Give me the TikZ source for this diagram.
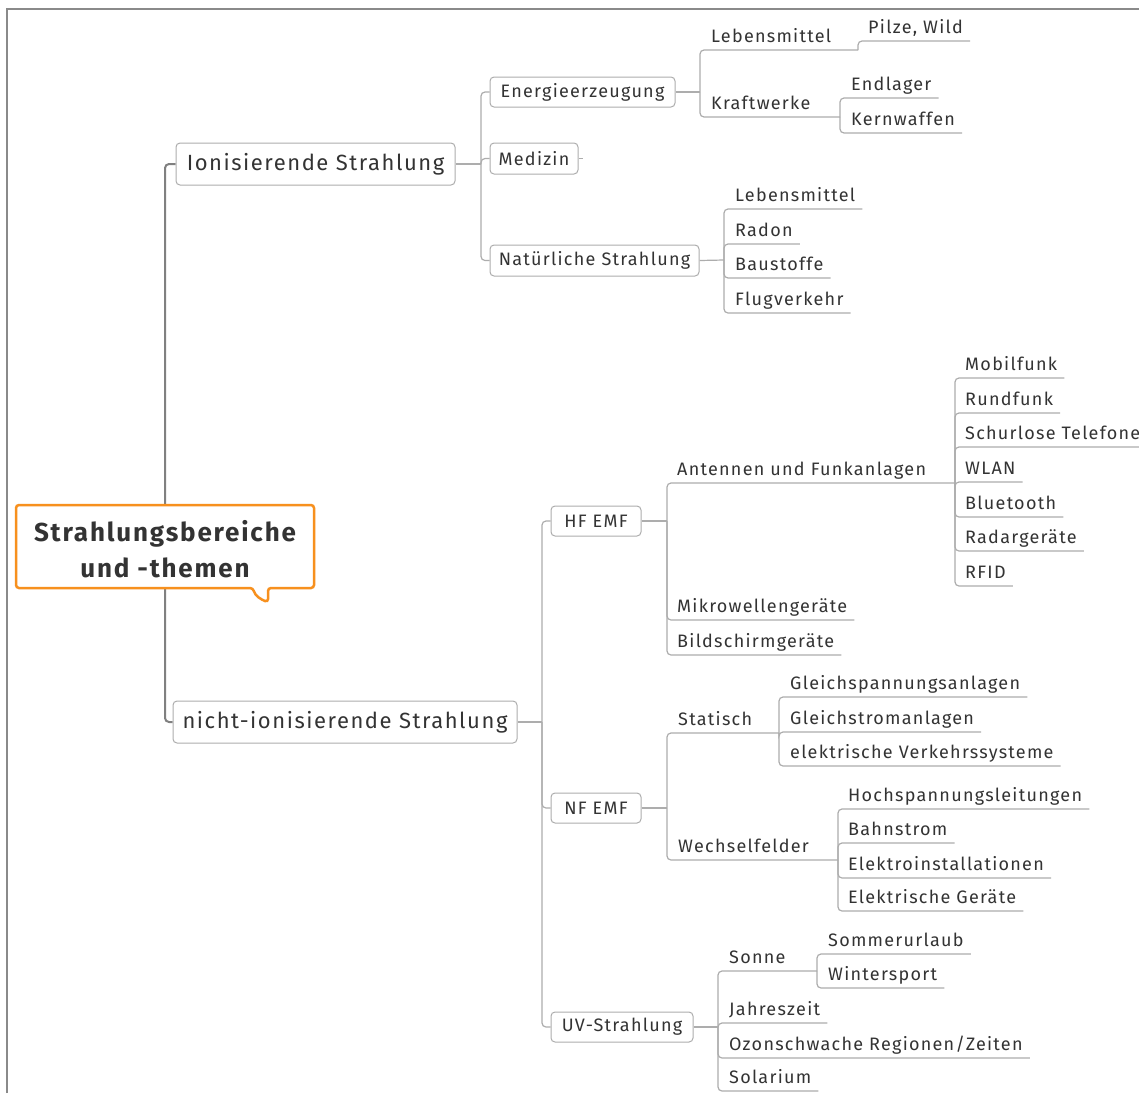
\documentclass[tikz,border=0pt]{standalone}
\usepackage{fontspec}
\setmainfont{Fira Sans}[LetterSpace=7]
\usetikzlibrary{backgrounds}
\definecolor{txt}{HTML}{333333}
\definecolor{ln}{HTML}{ADADAD}
\definecolor{trk}{HTML}{808080}
\definecolor{org}{HTML}{F7901E}
\definecolor{frm}{HTML}{8A8A8A}
\newcommand\leafline[2]{\draw[conn] (#1) |- ([yshift=-8pt]#2.base west) -- ([xshift=7pt,yshift=-8pt]#2.base east);}
\begin{document}
\begin{tikzpicture}[x=1pt,y=-1pt,
  box/.style={draw=ln, line width=1pt, rounded corners=4pt, fill=white, text=txt,
    font=\fontsize{18}{20}\selectfont, inner sep=0pt, minimum height=30pt},
  big/.style={box, font=\fontsize{22}{24}\selectfont, minimum height=42pt},
  leaf/.style={anchor=base west, inner sep=0pt, text=txt, font=\fontsize{18}{20}\selectfont},
  conn/.style={draw=ln, line width=1.2pt, rounded corners=4pt},
  trunk/.style={draw=trk, line width=2pt, rounded corners=4pt},
]
\useasboundingbox (0,0) rectangle (1139,1093);

% root
\node[inner sep=0pt, minimum width=298pt, minimum height=83pt, align=center, text=txt,
  font=\bfseries\fontsize{26}{36}\selectfont] (root) at (165,549) {Strahlungsbereiche\\und -themen};

% level 1
\node[big, minimum width=279pt] (ion) at (315.5,164) {Ionisierende Strahlung};
\node[big, minimum width=344pt] (nion) at (345,722) {nicht-ionisierende Strahlung};

% level 2 boxes
\node[box, minimum width=185pt] (energ) at (582.5,92) {Energieerzeugung};
\node[box, minimum width=88pt, minimum height=31pt] (med) at (534,158.5) {Medizin};
\node[box, minimum width=209pt, minimum height=31pt] (nat) at (594.5,260.5) {Natürliche Strahlung};
\node[box, minimum width=90pt] (hf) at (596,521) {HF EMF};
\node[box, minimum width=90pt] (nf) at (596,808) {NF EMF};
\node[box, minimum width=142pt] (uv) at (622,1027) {UV-Strahlung};

% junctions
\coordinate (Jion) at (481,164);
\coordinate (Jnion) at (542,722);
\coordinate (Jen) at (700,92);
\coordinate (Jnat) at (724,260);
\coordinate (Jhf) at (667,521);
\coordinate (Jnf) at (667,808);
\coordinate (Juv) at (718,1027);
\coordinate (Jp) at (858,50);
\coordinate (Jk) at (840,117);
\coordinate (Ja) at (955,483);
\coordinate (Js) at (779,733);
\coordinate (Jw) at (838,860);
\coordinate (Jso) at (817,971);

% Energieerzeugung
\node[leaf] (leba) at (711,42) {Lebensmittel};
\node[leaf] (pilze) at (868,33) {Pilze, Wild};
\node[leaf] (kraft) at (711,109) {Kraftwerke};
\node[leaf] (endl) at (851,90) {Endlager};
\node[leaf] (kern) at (851,125) {Kernwaffen};
% Natuerliche
\node[leaf] (lebb) at (735,201) {Lebensmittel};
\node[leaf] (radon) at (735,236) {Radon};
\node[leaf] (baust) at (735,270) {Baustoffe};
\node[leaf] (flug) at (735,305) {Flugverkehr};
% HF
\node[leaf] (ant) at (677,475) {Antennen und Funkanlagen};
\node[leaf] (mob) at (965,370) {Mobilfunk};
\node[leaf] (rund) at (965,405) {Rundfunk};
\node[leaf] (schnur) at (965,439) {Schurlose Telefone};
\node[leaf] (wlan) at (965,474) {WLAN};
\node[leaf] (blue) at (965,509) {Bluetooth};
\node[leaf] (radar) at (965,543) {Radargeräte};
\node[leaf] (rfid) at (965,578) {RFID};
\node[leaf] (mikro) at (677,612) {Mikrowellengeräte};
\node[leaf] (bild) at (677,647) {Bildschirmgeräte};
% NF
\node[leaf] (stat) at (678,725) {Statisch};
\node[leaf] (gsp) at (790,689) {Gleichspannungsanlagen};
\node[leaf] (gst) at (790,724) {Gleichstromanlagen};
\node[leaf] (elv) at (790,758) {elektrische Verkehrssysteme};
\node[leaf] (wech) at (678,852) {Wechselfelder};
\node[leaf] (hoch) at (848,801) {Hochspannungsleitungen};
\node[leaf] (bahn) at (848,835) {Bahnstrom};
\node[leaf] (elin) at (848,870) {Elektroinstallationen};
\node[leaf] (elg) at (848,903) {Elektrische Geräte};
% UV
\node[leaf] (sonne) at (729,963) {Sonne};
\node[leaf] (somm) at (828,946) {Sommerurlaub};
\node[leaf] (wint) at (828,980) {Wintersport};
\node[leaf] (jahr) at (729,1015) {Jahreszeit};
\node[leaf] (ozon) at (729,1050) {Ozonschwache Regionen/Zeiten};
\node[leaf] (sol) at (729,1083) {Solarium};

\begin{pgfonlayer}{background}
  \fill[white] (0,0) rectangle (1139,1093);
  \draw[frm, line width=1.5pt] (7,1093) -- (7,9) -- (1139,9);
  % trunk
  \draw[trunk] (root.center) |- (ion.west);
  \draw[trunk] (root.center) |- (nion.west);
  % root outline
  \draw[org, line width=2.5pt, fill=white, rounded corners=3pt]
    (16,505) -- (314,505) -- (314,588) -- (268,588) -- (268,602)
    .. controls (262,600) and (255,596) .. (253,588) -- (16,588) -- cycle;
  % ionisierende
  \draw[conn] (ion.east) -- (Jion);
  \foreach \c in {energ,med,nat} \draw[conn] (Jion) |- (\c.west);
  \draw[conn] (med.east) -- ++(4,0);
  \draw[conn] (energ.east) -- (Jen);
  \draw[conn] (Jen) |- (Jp);
  \leafline{Jp}{pilze}
  \draw[conn] (Jen) |- (Jk);
  \leafline{Jk}{endl}
  \leafline{Jk}{kern}
  \draw[conn] (nat.east) -- (Jnat);
  \foreach \c in {lebb,radon,baust,flug} {\leafline{Jnat}{\c}}
  % nicht-ionisierende
  \draw[conn] (nion.east) -- (Jnion);
  \foreach \c in {hf,nf,uv} \draw[conn] (Jnion) |- (\c.west);
  \draw[conn] (hf.east) -- (Jhf);
  \draw[conn] (Jhf) |- (Ja);
  \foreach \c in {mob,rund,schnur,wlan,blue,radar,rfid} {\leafline{Ja}{\c}}
  \leafline{Jhf}{mikro}
  \leafline{Jhf}{bild}
  \draw[conn] (nf.east) -- (Jnf);
  \draw[conn] (Jnf) |- (Js);
  \foreach \c in {gsp,gst,elv} {\leafline{Js}{\c}}
  \draw[conn] (Jnf) |- (Jw);
  \foreach \c in {hoch,bahn,elin,elg} {\leafline{Jw}{\c}}
  \draw[conn] (uv.east) -- (Juv);
  \draw[conn] (Juv) |- (Jso);
  \leafline{Jso}{somm}
  \leafline{Jso}{wint}
  \foreach \c in {jahr,ozon,sol} {\leafline{Juv}{\c}}
\end{pgfonlayer}
\end{tikzpicture}
\end{document}
